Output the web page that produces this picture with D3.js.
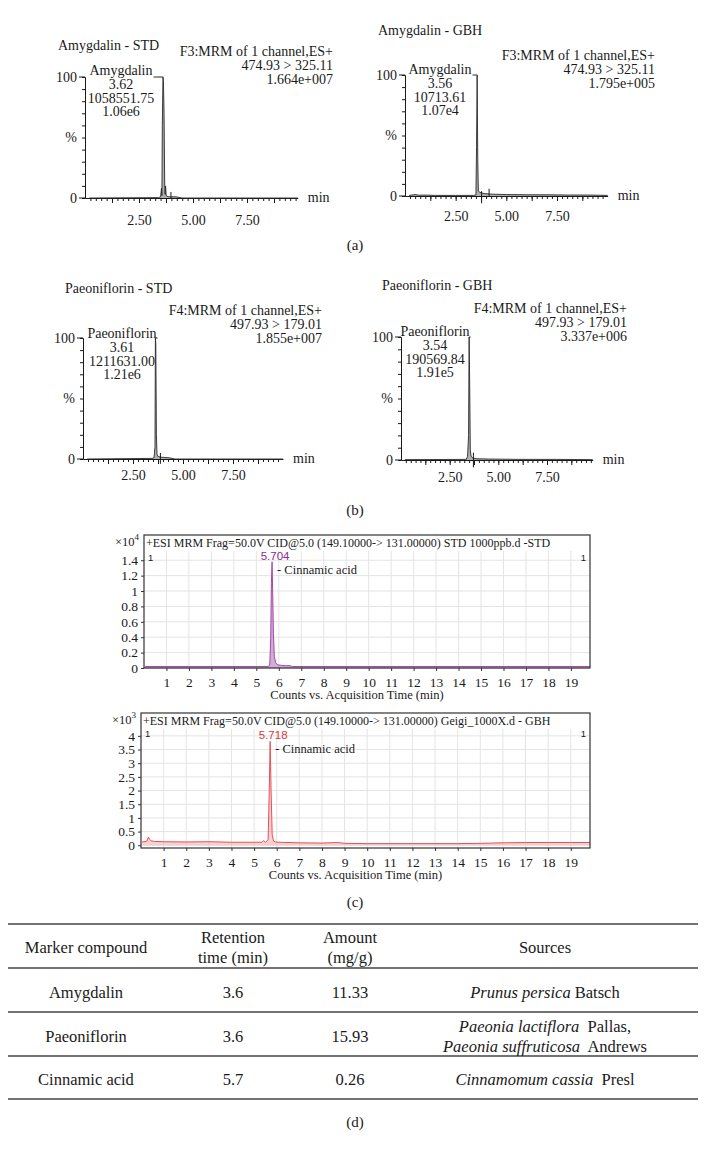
<!DOCTYPE html>
<html><head><meta charset="utf-8">
<script src="https://cdn.jsdelivr.net/npm/d3@7"></script>
<style>
body{margin:0;background:#fff}
svg{display:block}
text{font-family:"Liberation Serif","Times New Roman",serif;fill:#1a1a1a}
</style>
</head><body>
<svg id="chart" width="710" height="1155"></svg>
<script>
// ---------------- DATA ----------------
// (a) Amygdalin, STD  (time in min, intensity in %)
const amyStdTime = [0.2, 3.40, 3.50, 3.54, 3.56, 3.58, 3.61, 3.63, 3.66, 3.69, 3.71, 3.73, 3.76, 3.85, 4.2, 4.5, 9.85];
const amyStdPct  = [0,   0.3,  1,    8,    2,    60,   100,  97,   70,   10,   3,    10,   2,    1,    1,   0,   0];
const amyStdMarkers = [[3.98, 0, 5]];
const amyStdHeader = ["F3:MRM of 1 channel,ES+", "474.93 > 325.11", "1.664e+007"];
const amyStdLabel = ["Amygdalin", "3.62", "1058551.75", "1.06e6"];

// (a) Amygdalin, GBH
const amyGbhTime = [0.2, 0.5, 0.7, 0.9, 1.5, 2.5, 3.40, 3.50, 3.53, 3.56, 3.59, 3.62, 3.7, 3.9, 4.3, 5.0, 6.0, 7.0, 8.0, 9.0, 10.0];
const amyGbhPct  = [0.5, 1.2, 0.6, 0.8, 0.5, 0.5, 0.5,  1,    40,   100,  30,   4,    3,   2,   1.5, 1.2, 1,   1,   0.8, 0.8, 0.5];
const amyGbhMarkers = [[3.78, -6, 4], [4.15, 0, 6]];
const amyGbhHeader = ["F3:MRM of 1 channel,ES+", "474.93 > 325.11", "1.795e+005"];
const amyGbhLabel = ["Amygdalin", "3.56", "10713.61", "1.07e4"];

// (b) Paeoniflorin, STD
const paeStdTime = [0.2, 3.45, 3.55, 3.60, 3.62, 3.64, 3.67, 3.70, 3.75, 3.9, 4.3, 4.6, 10.0];
const paeStdPct  = [0,   0.5,  1,    10,   100,  95,   20,   4,    2,    1.5, 1,   0,   0];
const paeStdMarkers = [[3.87, -4, 5]];
const paeStdHeader = ["F4:MRM of 1 channel,ES+", "497.93 > 179.01", "1.855e+007"];
const paeStdLabel = ["Paeoniflorin", "3.61", "1211631.00", "1.21e6"];

// (b) Paeoniflorin, GBH
const paeGbhTime = [0.2, 3.35, 3.42, 3.47, 3.50, 3.53, 3.56, 3.60, 3.7, 3.9, 4.5, 6.0, 8.0, 9.85];
const paeGbhPct  = [0.3, 0.5,  3,    20,   100,  60,   8,    3,    1.5, 1,   0.8, 0.5, 0.5, 0.3];
const paeGbhMarkers = [[3.72, -6, 6]];
const paeGbhHeader = ["F4:MRM of 1 channel,ES+", "497.93 > 179.01", "3.337e+006"];
const paeGbhLabel = ["Paeoniflorin", "3.54", "190569.84", "1.91e5"];

const mlMinorTicks = d3.range(0.25, 9.9, 0.25);
const mlMidTicks = [1.25, 2.5, 3.75, 5, 6.25, 7.5, 8.75];
const mlLabelTicks = [2.5, 5, 7.5];
const mlYTicks = [0, 10, 20, 30, 40, 50, 60, 70, 80, 90, 100];

// (c) Cinnamic acid, STD (counts x10^4)
const cinStdTime = [0.05, 5.55, 5.60, 5.64, 5.67, 5.70, 5.73, 5.76, 5.80, 5.86, 5.95, 6.1, 6.3, 6.5, 6.6, 19.85];
const cinStdVal  = [0.02, 0.02, 0.05, 0.4,  1.1,  1.38, 0.95, 0.45, 0.15, 0.07, 0.04, 0.035, 0.03, 0.03, 0.02, 0.02];
const cinStdTitle = "+ESI MRM Frag=50.0V CID@5.0 (149.10000-> 131.00000) STD 1000ppb.d -STD";
const cinStdPeak = "5.704";
const cinStdYTicks = [0, 0.2, 0.4, 0.6, 0.8, 1, 1.2, 1.4];

// (c) Cinnamic acid, GBH (counts x10^3)
const cinGbhTime = [0.05, 0.25, 0.33, 0.38, 0.45, 0.6, 1.0, 2.0, 3.0, 4.0, 5.0, 5.35, 5.42, 5.5, 5.62, 5.67, 5.71, 5.75, 5.80, 5.86, 5.95, 6.1, 7.0, 8.0, 8.7, 9.0, 10.0, 12.0, 14.0, 15.0, 15.5, 16.0, 17.0, 18.0, 19.0, 19.85];
const cinGbhVal  = [0.12, 0.14, 0.3,  0.22, 0.16, 0.14, 0.13, 0.12, 0.13, 0.11, 0.11, 0.11, 0.17, 0.11, 0.2,  2.0,  3.8,  2.0,  0.4,  0.15, 0.12, 0.11, 0.09, 0.08, 0.1,  0.07, 0.06, 0.06, 0.06, 0.07, 0.08, 0.09, 0.1,  0.1,  0.1,  0.1];
const cinGbhTitle = "+ESI MRM Frag=50.0V CID@5.0 (149.10000-> 131.00000) Geigi_1000X.d - GBH";
const cinGbhPeak = "5.718";
const cinGbhYTicks = [0, 0.5, 1, 1.5, 2, 2.5, 3, 3.5, 4];
const cinXTicks = d3.range(1, 20, 1);

// (d) table
const tableHeader = [["Marker compound"], ["Retention", "time (min)"], ["Amount", "(mg/g)"], ["Sources"]];
const compounds = ["Amygdalin", "Paeoniflorin", "Cinnamic acid"];
const retentionTimes = ["3.6", "3.6", "5.7"];
const amounts = ["11.33", "15.93", "0.26"];
const sources = [
  [[["Prunus persica", true], [" Batsch", false]]],
  [[["Paeonia lactiflora", true], ["  Pallas,", false]], [["Paeonia suffruticosa", true], ["  Andrews", false]]],
  [[["Cinnamomum cassia", true], ["  Presl", false]]]
];

// ---------------- DRAW ----------------
const svg = d3.select("#chart");
svg.append("rect").attr("width", 710).attr("height", 1155).attr("fill", "#fff");

function drawMassLynx(p) {
  const g = svg.append("g");
  const x = d3.scaleLinear().domain([0, 7.5]).range([p.x0, p.x75]);
  const y = d3.scaleLinear().domain([0, 100]).range([p.y0, p.y100]);
  const fs = "14px";

  g.append("text").attr("x", p.titleX).attr("y", p.titleY).style("font-size", fs).text(p.title);
  p.header.forEach((t, i) => {
    g.append("text").attr("x", p.hdrX).attr("y", p.hdrY + i * 14).attr("text-anchor", "end")
      .style("font-size", fs).text(t);
  });

  // y axis
  const gy = g.append("g").attr("transform", `translate(${p.x0},0)`);
  gy.call(d3.axisLeft(y).tickValues(mlYTicks).tickSize(3).tickFormat(""));
  const gy2 = g.append("g").attr("transform", `translate(${p.x0},0)`);
  gy2.call(d3.axisLeft(y).tickValues([0, 50, 100]).tickSize(0).tickPadding(p.yPad)
    .tickFormat(d => d === 50 ? "%" : String(d)));
  gy2.select(".domain").remove();
  [0, 100].forEach(v => g.append("line").attr("x1", p.x0 - 6).attr("x2", p.x0)
    .attr("y1", y(v)).attr("y2", y(v)).attr("stroke", "#1a1a1a"));

  // x axis
  const gx = g.append("g").attr("transform", `translate(0,${p.y0})`);
  const xa = d3.scaleLinear().domain([0, p.xEnd]).range([p.x0, x(p.xEnd)]);
  gx.call(d3.axisBottom(xa).tickValues(mlMinorTicks.filter(v => v < p.xEnd)).tickSize(3).tickSizeOuter(0).tickFormat(""));
  const gx2 = g.append("g").attr("transform", `translate(0,${p.y0})`);
  gx2.call(d3.axisBottom(xa).tickValues(mlMidTicks).tickSize(5).tickFormat(""));
  gx2.select(".domain").remove();
  const gx3 = g.append("g").attr("transform", `translate(0,${p.y0})`);
  gx3.call(d3.axisBottom(xa).tickValues(mlLabelTicks).tickSize(0).tickPadding(p.xPad).tickFormat(d3.format(".2f")));
  gx3.select(".domain").remove();
  g.selectAll(".tick text").style("font-size", fs).style("font-family", '"Liberation Serif",serif').attr("fill", "#1a1a1a");
  g.selectAll(".domain, .tick line").attr("stroke", "#1a1a1a");
  g.append("text").attr("x", x(p.xEnd) + 10).attr("y", p.y0 + 4).style("font-size", fs).text("min");

  // trace
  const pts = p.t.map((t, i) => [t, p.v[i]]);
  g.append("path").datum(pts)
    .attr("d", d3.area().x(d => x(d[0])).y0(y(0)).y1(d => y(Math.max(0, d[1]))))
    .attr("fill", "#9a9a9a").attr("opacity", 0.8);
  g.append("path").datum(pts)
    .attr("d", d3.line().x(d => x(d[0])).y(d => y(d[1])))
    .attr("fill", "none").attr("stroke", "#2a2a2a").attr("stroke-width", 0.9);
  p.markers.forEach(m => g.append("line")
    .attr("x1", x(m[0])).attr("x2", x(m[0])).attr("y1", y(m[1])).attr("y2", y(m[2]))
    .attr("stroke", "#1a1a1a").attr("stroke-width", 1));

  // peak label
  let maxW = 0;
  p.label.forEach((t, i) => {
    const tt = g.append("text").attr("x", p.lblX).attr("y", p.lblY + i * 13.8).attr("text-anchor", "middle")
      .style("font-size", fs).text(t);
    if (i === 0) maxW = tt.node().getComputedTextLength();
  });
  const peakIdx = p.v.indexOf(d3.max(p.v));
  g.append("line").attr("x1", p.lblX + maxW / 2 + 1).attr("x2", x(p.t[peakIdx]))
    .attr("y1", y(100)).attr("y2", y(100)).attr("stroke", "#2a2a2a").attr("stroke-width", 1);
}

drawMassLynx({t: amyStdTime, v: amyStdPct, markers: amyStdMarkers, header: amyStdHeader, label: amyStdLabel,
  title: "Amygdalin - STD", titleX: 58, titleY: 50, hdrX: 333, hdrY: 56,
  x0: 85, x75: 247, xEnd: 9.85, y0: 198, y100: 77, yPad: 8, xPad: 17, lblX: 121, lblY: 75});
drawMassLynx({t: amyGbhTime, v: amyGbhPct, markers: amyGbhMarkers, header: amyGbhHeader, label: amyGbhLabel,
  title: "Amygdalin - GBH", titleX: 378, titleY: 35, hdrX: 655, hdrY: 60,
  x0: 405, x75: 557, xEnd: 10, y0: 196, y100: 75, yPad: 8, xPad: 15, lblX: 440, lblY: 74});
drawMassLynx({t: paeStdTime, v: paeStdPct, markers: paeStdMarkers, header: paeStdHeader, label: paeStdLabel,
  title: "Paeoniflorin - STD", titleX: 65, titleY: 293, hdrX: 322, hdrY: 315,
  x0: 83, x75: 233, xEnd: 10, y0: 459, y100: 338, yPad: 8, xPad: 11, lblX: 122, lblY: 338});
drawMassLynx({t: paeGbhTime, v: paeGbhPct, markers: paeGbhMarkers, header: paeGbhHeader, label: paeGbhLabel,
  title: "Paeoniflorin - GBH", titleX: 382, titleY: 290, hdrX: 627, hdrY: 313,
  x0: 401, x75: 547, xEnd: 9.85, y0: 460, y100: 337, yPad: 8, xPad: 12, lblX: 435, lblY: 336});

function drawAgilent(p) {
  const g = svg.append("g");
  const x = d3.scaleLinear().domain([0, 19.85]).range([p.left, p.right]);
  const y = d3.scaleLinear().domain(p.yDom).range([p.bottom, p.plotTop]);

  // grid
  g.selectAll(".vg").data(cinXTicks).enter().append("line")
    .attr("x1", d => x(d)).attr("x2", d => x(d)).attr("y1", p.plotTop).attr("y2", p.bottom)
    .attr("stroke", "#e4e4e4").attr("stroke-width", 1);
  g.selectAll(".hg").data(p.yTicks).enter().append("line")
    .attr("x1", p.left).attr("x2", p.right).attr("y1", d => y(d)).attr("y2", d => y(d))
    .attr("stroke", "#e4e4e4").attr("stroke-width", 1);

  // trace
  const pts = p.t.map((t, i) => [t, p.v[i]]);
  g.append("path").datum(pts)
    .attr("d", d3.area().x(d => x(d[0])).y0(y(0)).y1(d => y(d[1])))
    .attr("fill", p.fill);
  g.append("path").datum(pts)
    .attr("d", d3.line().x(d => x(d[0])).y(d => y(d[1])))
    .attr("fill", "none").attr("stroke", p.color).attr("stroke-width", 1);

  // frame
  g.append("rect").attr("x", p.left).attr("y", p.top).attr("width", p.right - p.left).attr("height", p.bottom - p.top)
    .attr("fill", "none").attr("stroke", "#333").attr("stroke-width", 1.2);

  // axes
  const gy = g.append("g").attr("transform", `translate(${p.left},0)`);
  gy.call(d3.axisLeft(y).tickValues(p.yTicks).tickSize(3).tickPadding(3).tickFormat(d3.format("~g")));
  gy.select(".domain").remove();
  const gx = g.append("g").attr("transform", `translate(0,${p.bottom})`);
  gx.call(d3.axisBottom(x).tickValues(cinXTicks).tickSize(3).tickPadding(6).tickFormat(d3.format("d")));
  gx.select(".domain").remove();
  g.selectAll(".tick text").style("font-size", "13.5px").style("font-family", '"Liberation Serif",serif').attr("fill", "#1a1a1a");
  g.selectAll(".tick line").attr("stroke", "#333");

  // texts
  g.append("text").attr("x", p.left + 2).attr("y", p.top + 12).style("font-size", "12px").text(p.title);
  const ex = g.append("text").attr("x", p.left - 29).attr("y", p.top + 11).style("font-size", "12.5px");
  ex.append("tspan").text("×10");
  ex.append("tspan").attr("dy", -6).style("font-size", "9px").text(p.exp);
  g.append("text").attr("x", p.left + 4).attr("y", y(p.yTicks[p.yTicks.length - 1]) + 1)
    .style("font-family", '"Liberation Sans",sans-serif').style("font-size", "9.5px").attr("fill", "#999").text("1");
  g.append("text").attr("x", p.right - 4).attr("y", y(p.yTicks[p.yTicks.length - 1]) + 1).attr("text-anchor", "end")
    .style("font-family", '"Liberation Sans",sans-serif').style("font-size", "9.5px").attr("fill", "#999").text("1");
  const pk = p.v.indexOf(d3.max(p.v));
  g.append("text").attr("x", x(p.t[pk]) + 3).attr("y", y(p.v[pk]) - 2).attr("text-anchor", "middle")
    .style("font-family", '"Liberation Sans",sans-serif').style("font-size", "11.5px").style("fill", p.labelColor).text(p.peak);
  g.append("text").attr("x", x(p.t[pk]) + 5).attr("y", y(p.v[pk]) + p.nameDy)
    .style("font-size", "12.5px").text("- Cinnamic acid");
  g.append("text").attr("x", (p.left + p.right) / 2 - 10).attr("y", p.bottom + 31).attr("text-anchor", "middle")
    .style("font-size", "12.5px").text("Counts vs. Acquisition Time (min)");
}

drawAgilent({t: cinStdTime, v: cinStdVal, title: cinStdTitle, peak: cinStdPeak, yTicks: cinStdYTicks, exp: "4",
  left: 144, right: 590, top: 535, plotTop: 551, bottom: 668, yDom: [0, 1.52],
  color: "#a24aa6", fill: "rgba(180,100,185,0.55)", labelColor: "#8e2a92", nameDy: 12});
drawAgilent({t: cinGbhTime, v: cinGbhVal, title: cinGbhTitle, peak: cinGbhPeak, yTicks: cinGbhYTicks, exp: "3",
  left: 141, right: 590, top: 713, plotTop: 729, bottom: 848, yDom: [-0.1, 4.25],
  color: "#e8505a", fill: "rgba(245,150,150,0.45)", labelColor: "#e0343c", nameDy: 12});

// panel labels
[["(a)", 250], ["(b)", 515], ["(c)", 907], ["(d)", 1127]].forEach(d => {
  svg.append("text").attr("x", 355).attr("y", d[1]).attr("text-anchor", "middle").style("font-size", "15px").text(d[0]);
});

// table
const colX = [86, 233, 350, 545];
const tfs = "16.5px";
const rules = [924, 968, 1012, 1056, 1099];
rules.forEach(r => svg.append("line").attr("x1", 8).attr("x2", 698).attr("y1", r).attr("y2", r)
  .attr("stroke", "#444").attr("stroke-width", 1.4));
tableHeader.forEach((lines, c) => {
  lines.forEach((t, i) => {
    const yy = lines.length === 1 ? 953 : 943 + i * 20;
    svg.append("text").attr("x", colX[c]).attr("y", yy).attr("text-anchor", "middle").style("font-size", tfs).text(t);
  });
});
compounds.forEach((c, r) => {
  const yy = 998 + r * 43.5;
  svg.append("text").attr("x", colX[0]).attr("y", yy).attr("text-anchor", "middle").style("font-size", tfs).text(c);
  svg.append("text").attr("x", colX[1]).attr("y", yy).attr("text-anchor", "middle").style("font-size", tfs).text(retentionTimes[r]);
  svg.append("text").attr("x", colX[2]).attr("y", yy).attr("text-anchor", "middle").style("font-size", tfs).text(amounts[r]);
  const srcLines = sources[r];
  srcLines.forEach((parts, i) => {
    const ly = srcLines.length === 1 ? yy : yy - 10 + i * 20;
    const t = svg.append("text").attr("x", colX[3]).attr("y", ly).attr("text-anchor", "middle").style("font-size", tfs)
      .attr("xml:space", "preserve").style("white-space", "pre");
    parts.forEach(pp => t.append("tspan").style("font-style", pp[1] ? "italic" : "normal").text(pp[0]));
  });
});
</script>
</body></html>
